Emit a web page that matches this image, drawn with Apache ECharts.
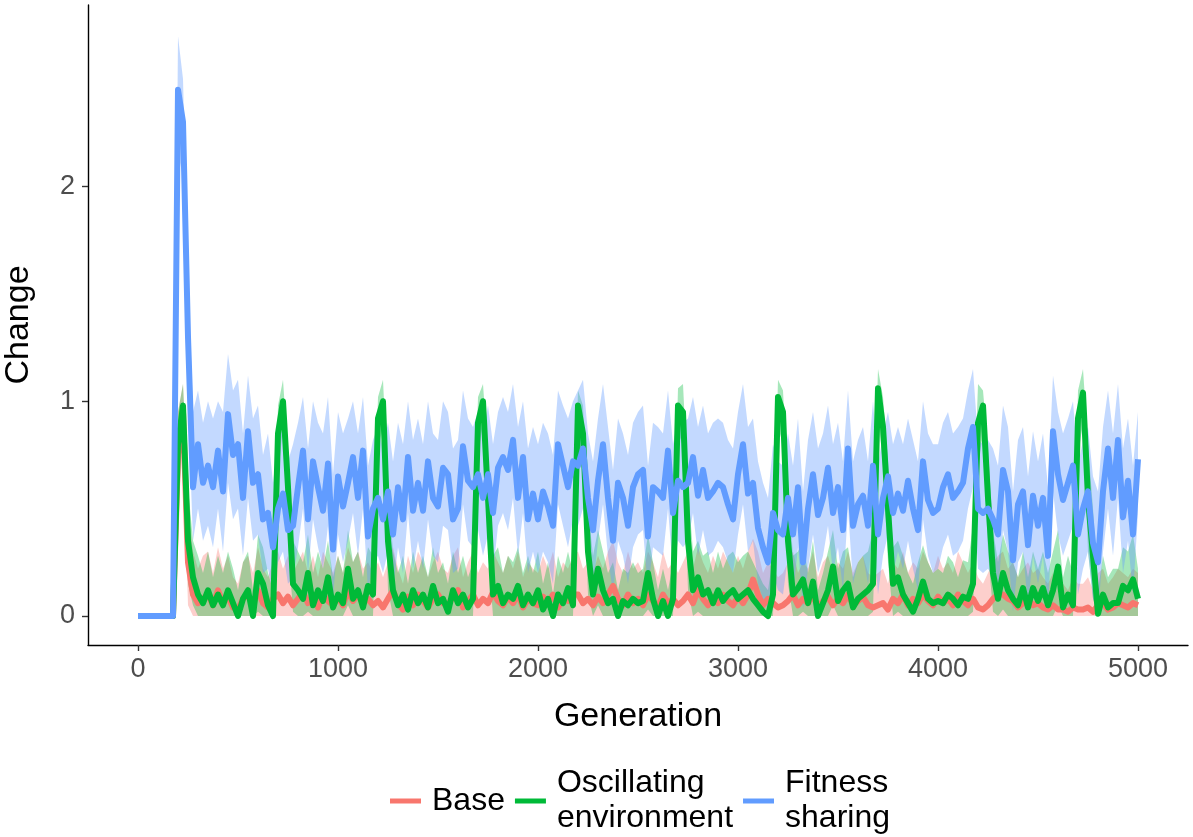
<!DOCTYPE html>
<html>
<head>
<meta charset="utf-8">
<script src="https://cdn.jsdelivr.net/npm/echarts@6/dist/echarts.min.js"></script>
<style>
  html, body { margin: 0; padding: 0; background: #fff; }
  #chart { width: 1193px; height: 837px; }
</style>
</head>
<body>
<div id="chart"></div>
<script>
// one sample every 25 generations, 0..5000
var step = 25;
var xTicks = [0, 1000, 2000, 3000, 4000, 5000];
var yTicks = [0, 1, 2];
var names = ['Base', 'Oscillating\nenvironment', 'Fitness\nsharing'];
var colors = ['#F8766D', '#00BA38', '#619CFF'];

// Base
var baseMean = [
  0,0,0,0,0,0,0,0,0.75,0.95,0.25,0.1,0.06,0.08,0.1,0.05,0.12,0.06,0.09,0.04,
  0.03,0.08,0.1,0.05,0.12,0.06,0.04,0.08,0.1,0.06,0.09,0.05,0.08,0.11,0.06,0.09,0.04,0.1,0.07,0.05,
  0.09,0.05,0.12,0.07,0.1,0.06,0.08,0.05,0.07,0.04,0.08,0.12,0.06,0.03,0.09,0.05,0.1,0.07,0.04,0.08,
  0.1,0.06,0.05,0.09,0.12,0.04,0.07,0.1,0.05,0.08,0.06,0.11,0.07,0.05,0.09,0.06,0.1,0.04,0.08,0.06,
  0.05,0.09,0.06,0.1,0.04,0.08,0.07,0.1,0.1,0.06,0.08,0.05,0.09,0.06,0.1,0.14,0.08,0.05,0.1,0.06,
  0.08,0.05,0.1,0.07,0.04,0.1,0.06,0.08,0.05,0.07,0.1,0.06,0.12,0.08,0.05,0.09,0.06,0.1,0.07,0.05,
  0.09,0.06,0.1,0.17,0.1,0.05,0.08,0.06,0.04,0.05,0.07,0.1,0.05,0.08,0.06,0.1,0.04,0.07,0.09,0.05,
  0.08,0.06,0.1,0.05,0.07,0.09,0.05,0.04,0.05,0.06,0.03,0.08,0.06,0.1,0.05,0.08,0.06,0.1,0.07,0.05,
  0.09,0.06,0.08,0.05,0.1,0.07,0.05,0.08,0.04,0.03,0.05,0.08,0.1,0.1,0.08,0.07,0.04,0.06,0.08,0.05,
  0.06,0.04,0.03,0.05,0.03,0.03,0.02,0.04,0.03,0.03,0.04,0.02,0.05,0.06,0.03,0.04,0.06,0.05,0.04,0.06,
  0.05
];
var baseHi = [
  0,0,0,0,0,0,0,0,0.95,1.08,0.5,0.3,0.22,0.28,0.3,0.2,0.32,0.22,0.28,0.18,
  0.15,0.25,0.28,0.2,0.32,0.22,0.18,0.25,0.3,0.22,0.28,0.2,0.25,0.3,0.2,0.28,0.18,0.3,0.25,0.2,
  0.28,0.2,0.32,0.25,0.3,0.22,0.25,0.2,0.25,0.18,0.25,0.32,0.22,0.15,0.28,0.2,0.3,0.25,0.18,0.25,
  0.3,0.22,0.2,0.28,0.32,0.18,0.25,0.3,0.2,0.25,0.22,0.3,0.25,0.2,0.28,0.22,0.3,0.18,0.25,0.22,
  0.2,0.28,0.22,0.3,0.18,0.25,0.22,0.28,0.3,0.22,0.25,0.2,0.28,0.22,0.3,0.35,0.25,0.2,0.3,0.22,
  0.25,0.2,0.3,0.25,0.18,0.3,0.22,0.25,0.2,0.25,0.3,0.22,0.32,0.25,0.2,0.28,0.22,0.3,0.25,0.2,
  0.28,0.22,0.3,0.36,0.3,0.2,0.25,0.22,0.18,0.2,0.25,0.3,0.2,0.25,0.22,0.3,0.18,0.25,0.28,0.2,
  0.25,0.22,0.3,0.2,0.25,0.28,0.2,0.18,0.2,0.22,0.15,0.25,0.22,0.3,0.2,0.25,0.22,0.3,0.25,0.2,
  0.28,0.22,0.25,0.2,0.3,0.25,0.2,0.25,0.18,0.15,0.2,0.25,0.28,0.3,0.22,0.25,0.18,0.22,0.25,0.2,
  0.22,0.18,0.15,0.2,0.15,0.15,0.12,0.18,0.15,0.15,0.18,0.12,0.2,0.22,0.15,0.18,0.22,0.2,0.18,0.22,
  0.2
];
var baseLo = [
  0,0,0,0,0,0,0,0,0.5,0.8,0.05,0,0,0,0,0,0,0,0,0,
  0,0,0,0,0,0,0,0,0,0,0,0,0,0,0,0,0,0,0,0,
  0,0,0,0,0,0,0,0,0,0,0,0,0,0,0,0,0,0,0,0,
  0,0,0,0,0,0,0,0,0,0,0,0,0,0,0,0,0,0,0,0,
  0,0,0,0,0,0,0,0,0,0,0,0,0,0,0,0,0,0,0,0,
  0,0,0,0,0,0,0,0,0,0,0,0,0,0,0,0,0,0,0,0,
  0,0,0,0,0,0,0,0,0,0,0,0,0,0,0,0,0,0,0,0,
  0,0,0,0,0,0,0,0,0,0,0,0,0,0,0,0,0,0,0,0,
  0,0,0,0,0,0,0,0,0,0,0,0,0,0,0,0,0,0,0,0,
  0,0,0,0,0,0,0,0,0,0,0,0,0,0,0,0,0,0,0,0,
  0
];

// Oscillating environment
var oscMean = [
  0,0,0,0,0,0,0,0,0.8,0.98,0.35,0.18,0.1,0.06,0.12,0.05,0.1,0.05,0.12,0.06,
  0,0.08,0.12,0,0.2,0.15,0.05,0,0.85,1.0,0.6,0.15,0.12,0.08,0.2,0.05,0.12,0.07,0.18,0.04,
  0.1,0.06,0.22,0.08,0.12,0.04,0.14,0.1,0.92,1.0,0.35,0.12,0.05,0.1,0.03,0.12,0.06,0.1,0.04,0.14,
  0.06,0.08,0.02,0.12,0.06,0.1,0.04,0.08,0.9,1.0,0.55,0.1,0.14,0.06,0.1,0.08,0.14,0.05,0.1,0.06,
  0.12,0.03,0.08,0,0.1,0.06,0.13,0.05,0.98,0.85,0.3,0.1,0.22,0.12,0.06,0.08,0,0.07,0.05,0.08,
  0.06,0.07,0.2,0.08,0,0.07,0,0.08,0.98,0.95,0.35,0.12,0.18,0.1,0.12,0.06,0.12,0.07,0.1,0.12,
  0.08,0.1,0.12,0.08,0.05,0.02,0,0.1,1.02,0.95,0.35,0.1,0.13,0.17,0.06,0.16,0,0.06,0.12,0.23,
  0.07,0.12,0.15,0.04,0.08,0.1,0.12,0.15,1.06,0.88,0.5,0.15,0.18,0.1,0.06,0.02,0.08,0.16,0.08,0.06,
  0.07,0.06,0.1,0.08,0.05,0.09,0.08,0.15,0.9,0.98,0.55,0.2,0.08,0.2,0.12,0.08,0.05,0.13,0.04,0.13,
  0.07,0.13,0.05,0.12,0.23,0.04,0.1,0.05,0.92,1.04,0.55,0.28,0.01,0.1,0.04,0.06,0.06,0.14,0.12,0.17,
  0.08
];
var oscHi = [
  0,0,0,0,0,0,0,0,0.95,1.08,0.6,0.35,0.28,0.2,0.3,0.18,0.28,0.2,0.3,0.22,
  0.12,0.25,0.3,0.12,0.38,0.32,0.2,0.12,0.98,1.1,0.75,0.35,0.3,0.25,0.38,0.2,0.3,0.22,0.35,0.18,
  0.28,0.2,0.4,0.25,0.3,0.18,0.32,0.28,1.02,1.1,0.6,0.3,0.2,0.28,0.15,0.3,0.2,0.28,0.18,0.32,
  0.2,0.25,0.15,0.3,0.2,0.28,0.18,0.25,1.02,1.08,0.75,0.28,0.32,0.2,0.28,0.25,0.32,0.2,0.28,0.2,
  0.3,0.15,0.25,0.1,0.28,0.2,0.3,0.2,1.05,0.98,0.5,0.28,0.4,0.3,0.2,0.25,0.12,0.22,0.2,0.25,
  0.2,0.22,0.38,0.25,0.12,0.22,0.12,0.25,1.06,1.08,0.6,0.3,0.35,0.28,0.3,0.2,0.3,0.22,0.28,0.3,
  0.25,0.28,0.3,0.25,0.2,0.15,0.12,0.28,1.1,1.05,0.6,0.28,0.3,0.35,0.2,0.35,0.12,0.2,0.3,0.4,
  0.22,0.3,0.32,0.18,0.25,0.28,0.3,0.4,1.15,1.02,0.72,0.32,0.35,0.28,0.2,0.15,0.25,0.33,0.25,0.2,
  0.22,0.2,0.28,0.25,0.18,0.26,0.25,0.42,1.08,1.05,0.78,0.4,0.25,0.38,0.3,0.25,0.18,0.3,0.18,0.3,
  0.22,0.3,0.2,0.3,0.4,0.18,0.28,0.2,1.05,1.15,0.8,0.5,0.12,0.28,0.18,0.22,0.22,0.32,0.3,0.38,
  0.22
];
var oscLo = [
  0,0,0,0,0,0,0,0,0.6,0.85,0.15,0.05,0,0,0,0,0,0,0,0,
  0,0,0,0,0.02,0,0,0,0.65,0.88,0.35,0.02,0,0,0.02,0,0,0,0,0,
  0,0,0.05,0,0,0,0,0,0.78,0.88,0.12,0,0,0,0,0,0,0,0,0,
  0,0,0,0,0,0,0,0,0.75,0.9,0.3,0,0,0,0,0,0,0,0,0,
  0,0,0,0,0,0,0,0,0.85,0.68,0.1,0,0.05,0,0,0,0,0,0,0,
  0,0,0.03,0,0,0,0,0,0.85,0.8,0.12,0,0.02,0,0,0,0,0,0,0,
  0,0,0,0,0,0,0,0,0.88,0.8,0.15,0,0,0.02,0,0,0,0,0,0.05,
  0,0,0,0,0,0,0,0.02,0.95,0.7,0.25,0,0.02,0,0,0,0,0,0,0,
  0,0,0,0,0,0,0,0.02,0.7,0.85,0.3,0.02,0,0.03,0,0,0,0,0,0,
  0,0,0,0,0.05,0,0,0,0.75,0.9,0.3,0.08,0,0,0,0,0,0,0,0,
  0
];

// Fitness sharing
var fitMean = [
  0,0,0,0,0,0,0,0,2.45,2.3,1.3,0.6,0.8,0.62,0.7,0.6,0.77,0.58,0.94,0.75,
  0.8,0.55,0.86,0.62,0.66,0.45,0.48,0.32,0.5,0.57,0.4,0.42,0.6,0.77,0.45,0.72,0.6,0.49,0.71,0.31,
  0.65,0.51,0.62,0.74,0.55,0.77,0.37,0.5,0.55,0.45,0.58,0.38,0.6,0.45,0.74,0.49,0.62,0.49,0.72,0.55,
  0.51,0.69,0.66,0.45,0.5,0.79,0.63,0.6,0.66,0.55,0.66,0.48,0.69,0.74,0.68,0.82,0.55,0.74,0.45,0.57,
  0.45,0.58,0.51,0.42,0.8,0.7,0.6,0.72,0.7,0.78,0.55,0.4,0.63,0.8,0.55,0.35,0.62,0.55,0.42,0.6,
  0.66,0.68,0.37,0.6,0.58,0.55,0.77,0.48,0.63,0.6,0.62,0.74,0.56,0.68,0.55,0.58,0.62,0.6,0.52,0.45,
  0.66,0.8,0.57,0.62,0.41,0.32,0.25,0.48,0.4,0.38,0.55,0.38,0.6,0.25,0.5,0.66,0.47,0.55,0.69,0.48,
  0.6,0.4,0.78,0.42,0.52,0.56,0.42,0.7,0.38,0.55,0.65,0.48,0.57,0.49,0.63,0.5,0.4,0.72,0.54,0.48,
  0.5,0.6,0.66,0.55,0.58,0.62,0.78,0.88,0.5,0.48,0.5,0.45,0.38,0.68,0.58,0.26,0.52,0.58,0.33,0.56,
  0.42,0.55,0.28,0.86,0.66,0.54,0.62,0.7,0.38,0.5,0.58,0.34,0.25,0.58,0.78,0.55,0.82,0.46,0.63,0.38,
  0.73
];
var fitHi = [
  0,0,0,0,0,0,0,0,2.7,2.5,1.6,0.95,1.05,0.9,1.0,0.92,1.0,0.95,1.22,1.05,
  1.1,0.85,1.12,0.92,0.98,0.75,0.85,0.62,0.82,0.88,0.72,0.8,0.9,1.02,0.78,1.0,0.9,0.85,1.02,0.66,
  0.95,0.85,0.92,1.0,0.85,1.02,0.7,0.82,0.88,0.78,0.9,0.72,0.9,0.8,1.0,0.82,0.92,0.8,1.0,0.85,
  0.82,1.0,0.95,0.78,0.82,1.05,0.92,0.88,0.95,0.85,0.98,0.8,0.95,1.02,0.95,1.08,0.88,1.0,0.78,0.88,
  0.8,0.9,0.85,0.75,1.05,0.98,0.92,1.0,1.05,1.1,0.85,0.72,0.92,1.08,0.88,0.68,0.92,0.85,0.75,0.9,
  0.95,0.98,0.7,0.9,0.88,0.85,1.05,0.8,0.92,0.9,0.92,1.02,0.88,0.98,0.85,0.9,0.92,0.9,0.82,0.78,
  0.95,1.08,0.88,0.92,0.72,0.62,0.55,0.8,0.72,0.7,0.85,0.7,0.92,0.58,0.82,0.95,0.78,0.85,0.98,0.8,
  0.9,0.72,1.05,0.72,0.82,0.88,0.72,1.0,0.7,0.85,0.95,0.8,0.88,0.8,0.92,0.82,0.72,1.0,0.85,0.8,
  0.8,0.9,0.95,0.85,0.88,0.92,1.05,1.15,0.82,0.8,0.82,0.78,0.7,0.98,0.88,0.58,0.82,0.88,0.65,0.86,
  0.72,0.85,0.6,1.12,0.95,0.85,0.92,1.0,0.7,0.82,0.88,0.65,0.58,0.88,1.05,0.85,1.08,0.78,0.92,0.7,
  0.95
];
var fitLo = [
  0,0,0,0,0,0,0,0,2.15,2.05,1.0,0.35,0.5,0.35,0.42,0.32,0.5,0.3,0.62,0.45,
  0.5,0.28,0.55,0.35,0.38,0.2,0.22,0.1,0.25,0.3,0.15,0.18,0.32,0.5,0.2,0.45,0.32,0.22,0.42,0.08,
  0.38,0.25,0.35,0.48,0.28,0.5,0.12,0.25,0.28,0.2,0.3,0.12,0.32,0.2,0.48,0.22,0.35,0.22,0.45,0.28,
  0.25,0.42,0.4,0.2,0.22,0.52,0.35,0.32,0.4,0.28,0.38,0.2,0.42,0.48,0.4,0.55,0.28,0.48,0.2,0.3,
  0.2,0.3,0.25,0.15,0.52,0.42,0.32,0.45,0.42,0.5,0.28,0.12,0.35,0.52,0.28,0.1,0.35,0.28,0.15,0.32,
  0.38,0.4,0.12,0.32,0.3,0.28,0.5,0.2,0.35,0.32,0.35,0.48,0.28,0.4,0.28,0.3,0.35,0.32,0.25,0.2,
  0.38,0.52,0.3,0.35,0.15,0.08,0.03,0.2,0.12,0.1,0.28,0.1,0.32,0.03,0.22,0.38,0.2,0.28,0.42,0.2,
  0.32,0.12,0.5,0.15,0.25,0.28,0.15,0.42,0.1,0.28,0.38,0.2,0.3,0.22,0.35,0.22,0.12,0.45,0.28,0.2,
  0.22,0.32,0.38,0.28,0.3,0.35,0.5,0.6,0.22,0.2,0.22,0.18,0.1,0.4,0.3,0.02,0.25,0.3,0.05,0.28,
  0.15,0.28,0.02,0.58,0.38,0.28,0.35,0.42,0.1,0.22,0.3,0.08,0.02,0.3,0.5,0.28,0.55,0.2,0.35,0.1,
  0.48
];

var generations = fitMean.map(function (v, i) { return i * step; });
var font = '"Liberation Sans", Arial, Helvetica, sans-serif';

function ribbon(lo, hi, fill) {
  return {
    type: 'custom',
    silent: true,
    clip: true,
    z: 1,
    data: generations.map(function (g, i) { return [g, lo[i], hi[i]]; }),
    encode: { x: 0, y: [1, 2] },
    renderItem: function (params, api) {
      if (params.dataIndex !== 0) return null;
      var pts = [];
      for (var i = 0; i < generations.length; i++) pts.push(api.coord([generations[i], hi[i]]));
      for (var j = generations.length - 1; j >= 0; j--) pts.push(api.coord([generations[j], lo[j]]));
      return { type: 'polygon', shape: { points: pts }, style: { fill: fill } };
    }
  };
}

function line(name, values, color, z) {
  return {
    name: name,
    type: 'line',
    z: z,
    color: color,
    symbol: 'none',
    showSymbol: false,
    lineStyle: { color: color, width: 6, join: 'round' },
    data: generations.map(function (g, i) { return [g, values[i]]; })
  };
}

var myChart = echarts.init(document.getElementById('chart'));
var option = {
  animation: false,
  backgroundColor: '#fff',
  grid: { left: 88, right: 5, top: 5, bottom: 192, outerBoundsMode: 'none' },
  xAxis: {
    type: 'value',
    min: -250,
    max: 5250,
    name: 'Generation',
    nameLocation: 'middle',
    nameGap: 55,
    nameTextStyle: { fontSize: 34, color: '#000', fontFamily: font },
    axisLine: { onZero: false, lineStyle: { color: '#000', width: 1.4 } },
    axisTick: { customValues: xTicks, length: 6, lineStyle: { color: '#333', width: 1.4 } },
    axisLabel: {
      customValues: xTicks, margin: 11, fontSize: 27, color: '#4D4D4D', fontFamily: font,
      formatter: function (v) { return String(v); }
    },
    splitLine: { show: false }
  },
  yAxis: {
    type: 'value',
    min: -0.135,
    max: 2.845,
    name: 'Change',
    nameLocation: 'middle',
    nameGap: 52,
    nameTextStyle: { fontSize: 34, color: '#000', fontFamily: font },
    axisLine: { show: true, onZero: false, lineStyle: { color: '#000', width: 1.4 } },
    axisTick: { show: true, customValues: yTicks, length: 6, lineStyle: { color: '#333', width: 1.4 } },
    axisLabel: { customValues: yTicks, margin: 13, fontSize: 27, color: '#4D4D4D', fontFamily: font },
    splitLine: { show: false }
  },
  legend: {
    data: names,
    left: 390,
    top: 766,
    padding: 0,
    icon: 'rect',
    itemWidth: 31,
    itemHeight: 5,
    itemGap: 10,
    textStyle: { fontSize: 32, lineHeight: 35, color: '#000', fontFamily: font, padding: [0, 0, 0, 6] }
  },
  series: [
    ribbon(baseLo, baseHi, 'rgba(248,118,109,0.35)'),
    ribbon(oscLo, oscHi, 'rgba(0,186,56,0.35)'),
    ribbon(fitLo, fitHi, 'rgba(97,156,255,0.38)'),
    line(names[0], baseMean, colors[0], 2),
    line(names[1], oscMean, colors[1], 3),
    line(names[2], fitMean, colors[2], 4)
  ]
};
option && myChart.setOption(option);
</script>
</body>
</html>
